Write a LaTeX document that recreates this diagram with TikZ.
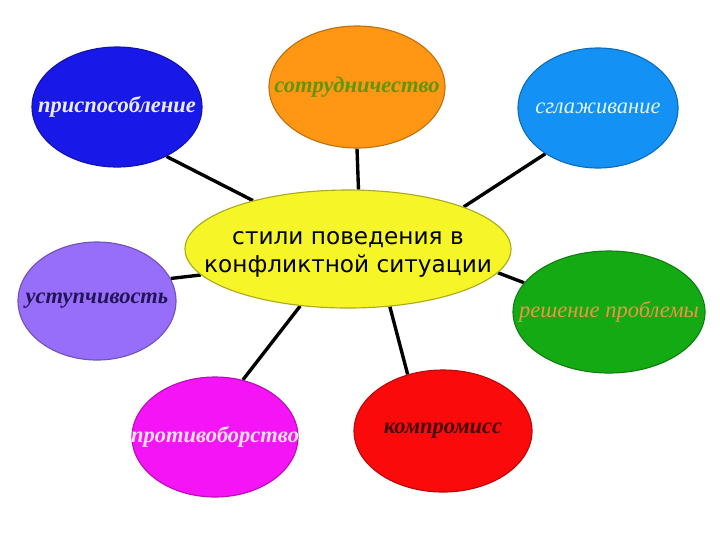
\documentclass[tikz,border=0pt]{standalone}
\usepackage{fontspec}
\setmainfont{Liberation Serif}
\setsansfont{DejaVu Sans}
\usepackage{tikz}
\usetikzlibrary{shapes.geometric,backgrounds}

% bubble fills
\definecolor{cPrisp}{RGB}{24,24,232}
\definecolor{cSotr}{RGB}{255,150,20}
\definecolor{cSgl}{RGB}{20,145,245}
\definecolor{cKern}{RGB}{245,245,40}
\definecolor{cUst}{RGB}{150,110,250}
\definecolor{cResh}{RGB}{20,170,20}
\definecolor{cProt}{RGB}{245,20,245}
\definecolor{cKomp}{RGB}{250,10,10}
% text colours
\definecolor{tPrisp}{RGB}{235,235,255}
\definecolor{tSotr}{RGB}{95,150,10}
\definecolor{tSgl}{RGB}{225,245,255}
\definecolor{tUst}{RGB}{35,20,90}
\definecolor{tResh}{RGB}{235,150,70}
\definecolor{tProt}{RGB}{255,225,255}
\definecolor{tKomp}{RGB}{70,10,10}

\begin{document}
\begin{tikzpicture}[
    x=0.025cm, y=-0.025cm,
    bubble/.style={ellipse, inner sep=0pt, line width=0.8pt},
    word/.style={inner sep=0pt, font=\fontsize{16}{18}\selectfont\itshape},
    link/.style={line width=2.4pt},
]
\def\pxu{0.025cm}
\useasboundingbox (0,0) rectangle (720,540);

% Centre ellipse
\node[bubble, fill=cKern, draw=cKern!70!black, minimum width=2*163*\pxu, minimum height=2*59*\pxu] (kern) at (348,249) {};
\node[align=center, inner sep=0pt, font=\sffamily\fontsize{16.5}{20}\selectfont] (kern-t) at (348,254) {стили поведения в\\конфликтной ситуации};

% Outer ellipses: name/x/y/rx/ry/fill
\foreach \nm/\cx/\cy/\rx/\ry/\col in {prisp/117/107/85/60/cPrisp, sotr/357/87/88/61/cSotr, sgl/598/108/80/60/cSgl,
    ust/97/301/79/59/cUst, resh/609/312/96/61/cResh, prot/215/437/83/60/cProt, komp/443/431/89/61/cKomp} {
    \node[bubble, fill=\col, draw=\col!75!black, minimum width=2*\rx*\pxu, minimum height=2*\ry*\pxu] (\nm) at (\cx,\cy) {};
}

% Labels
\foreach \nm/\tcol/\wt/\txt in {prisp/tPrisp/\bfseries/приспособление, sotr/tSotr/\bfseries/сотрудничество,
    sgl/tSgl/\mdseries/сглаживание, ust/tUst/\bfseries/уступчивость, resh/tResh/\mdseries/решение проблемы,
    prot/tProt/\bfseries/противоборство, komp/tKomp/\bfseries/компромисс} {
    \node[word, text=\tcol] (\nm-t) at (\nm) {\wt\txt};
}

% Connectors
\begin{scope}[on background layer]
\foreach \a/\nm/\b in {153/prisp/-45, 80/sotr/-90, 20/sgl/-139, 190/ust/17, -9/resh/161, -130/prot/64, -54/komp/122} {
    \draw[link] (kern.\a) -- (\nm.\b);
}
\end{scope}

\end{tikzpicture}
\end{document}
